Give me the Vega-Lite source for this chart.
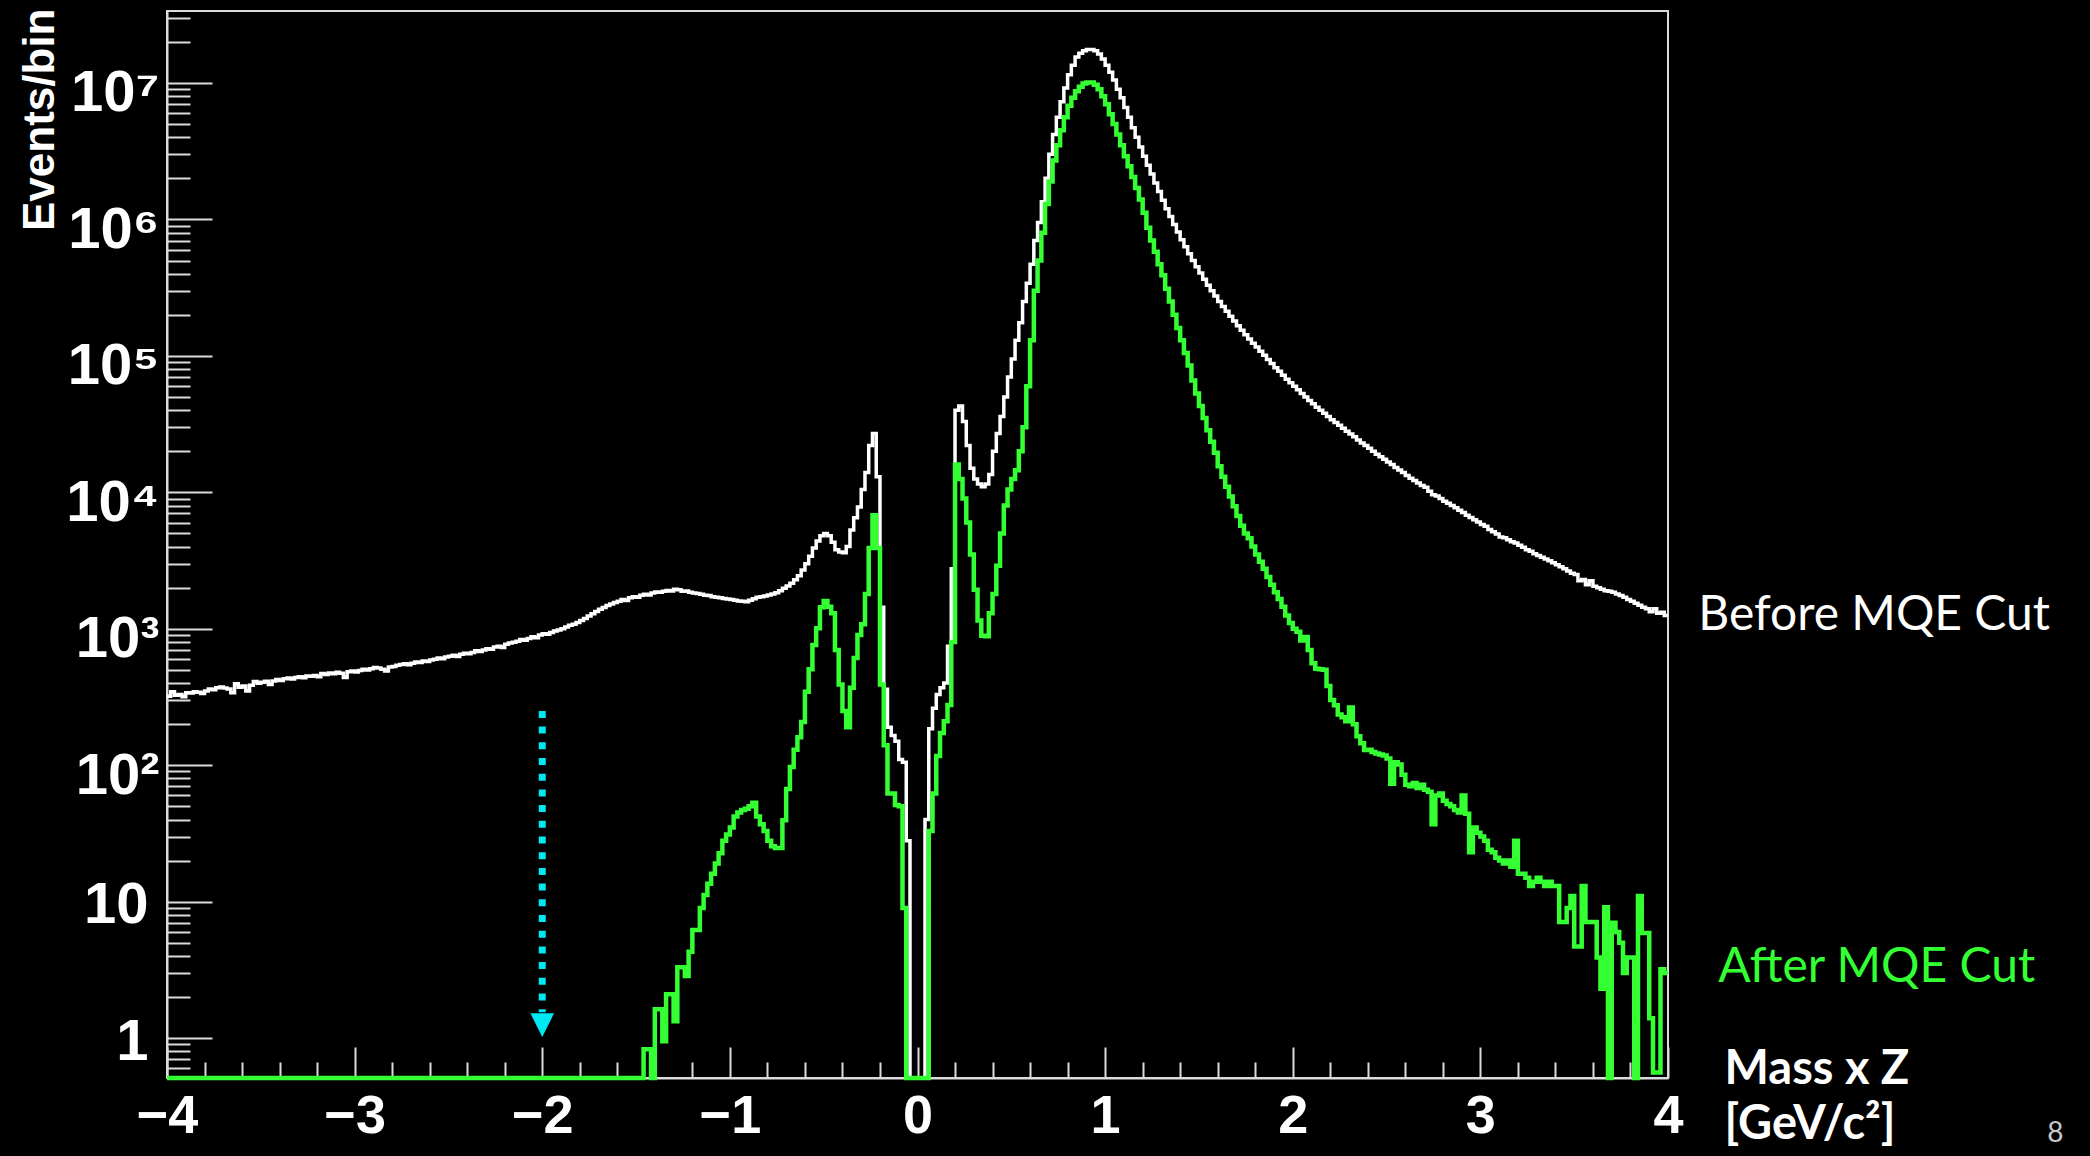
{
"$schema": "https://vega.github.io/schema/vega-lite/v6.json",
"width": 1501, "height": 1067,
"autosize": {"type": "none"},
"padding": {"left": 167, "top": 11, "right": 422, "bottom": 78},
"background": "#000000",
"config": {"view": {"stroke": "#dcdcdc", "strokeWidth": 2}, "axis": {"grid": false}},
"data": {"values": [
{"x":-4.00,"w":320,"g":0.51},{"x":-3.98,"w":345,"g":0.51},{"x":-3.96,"w":325,"g":0.51},{"x":-3.94,"w":330,"g":0.51},{"x":-3.92,"w":318,"g":0.51},{"x":-3.90,"w":340,"g":0.51},{"x":-3.88,"w":338,"g":0.51},{"x":-3.86,"w":345,"g":0.51},{"x":-3.84,"w":342,"g":0.51},{"x":-3.82,"w":335,"g":0.51},
{"x":-3.80,"w":350,"g":0.51},{"x":-3.78,"w":362,"g":0.51},{"x":-3.76,"w":358,"g":0.51},{"x":-3.74,"w":370,"g":0.51},{"x":-3.72,"w":375,"g":0.51},{"x":-3.70,"w":368,"g":0.51},{"x":-3.68,"w":362,"g":0.51},{"x":-3.66,"w":340,"g":0.51},{"x":-3.64,"w":395,"g":0.51},{"x":-3.62,"w":372,"g":0.51},
{"x":-3.60,"w":380,"g":0.51},{"x":-3.58,"w":350,"g":0.51},{"x":-3.56,"w":385,"g":0.51},{"x":-3.54,"w":410,"g":0.51},{"x":-3.52,"w":398,"g":0.51},{"x":-3.50,"w":405,"g":0.51},{"x":-3.48,"w":412,"g":0.51},{"x":-3.46,"w":390,"g":0.51},{"x":-3.44,"w":415,"g":0.51},{"x":-3.42,"w":425,"g":0.51},
{"x":-3.40,"w":418,"g":0.51},{"x":-3.38,"w":430,"g":0.51},{"x":-3.36,"w":435,"g":0.51},{"x":-3.34,"w":428,"g":0.51},{"x":-3.32,"w":440,"g":0.51},{"x":-3.30,"w":445,"g":0.51},{"x":-3.28,"w":437,"g":0.51},{"x":-3.26,"w":450,"g":0.51},{"x":-3.24,"w":448,"g":0.51},{"x":-3.22,"w":455,"g":0.51},
{"x":-3.20,"w":445,"g":0.51},{"x":-3.18,"w":470,"g":0.51},{"x":-3.16,"w":462,"g":0.51},{"x":-3.14,"w":475,"g":0.51},{"x":-3.12,"w":468,"g":0.51},{"x":-3.10,"w":480,"g":0.51},{"x":-3.08,"w":472,"g":0.51},{"x":-3.06,"w":440,"g":0.51},{"x":-3.04,"w":485,"g":0.51},{"x":-3.02,"w":490,"g":0.51},
{"x":-3.00,"w":482,"g":0.51},{"x":-2.98,"w":495,"g":0.51},{"x":-2.96,"w":505,"g":0.51},{"x":-2.94,"w":498,"g":0.51},{"x":-2.92,"w":510,"g":0.51},{"x":-2.90,"w":520,"g":0.51},{"x":-2.88,"w":515,"g":0.51},{"x":-2.86,"w":505,"g":0.51},{"x":-2.84,"w":490,"g":0.51},{"x":-2.82,"w":525,"g":0.51},
{"x":-2.80,"w":530,"g":0.51},{"x":-2.78,"w":540,"g":0.51},{"x":-2.76,"w":548,"g":0.51},{"x":-2.74,"w":555,"g":0.51},{"x":-2.72,"w":545,"g":0.51},{"x":-2.70,"w":560,"g":0.51},{"x":-2.68,"w":570,"g":0.51},{"x":-2.66,"w":565,"g":0.51},{"x":-2.64,"w":580,"g":0.51},{"x":-2.62,"w":575,"g":0.51},
{"x":-2.60,"w":590,"g":0.51},{"x":-2.58,"w":598,"g":0.51},{"x":-2.56,"w":610,"g":0.51},{"x":-2.54,"w":602,"g":0.51},{"x":-2.52,"w":620,"g":0.51},{"x":-2.50,"w":628,"g":0.51},{"x":-2.48,"w":640,"g":0.51},{"x":-2.46,"w":625,"g":0.51},{"x":-2.44,"w":650,"g":0.51},{"x":-2.42,"w":662,"g":0.51},
{"x":-2.40,"w":655,"g":0.51},{"x":-2.38,"w":670,"g":0.51},{"x":-2.36,"w":690,"g":0.51},{"x":-2.34,"w":680,"g":0.51},{"x":-2.32,"w":700,"g":0.51},{"x":-2.30,"w":715,"g":0.51},{"x":-2.28,"w":708,"g":0.51},{"x":-2.26,"w":735,"g":0.51},{"x":-2.24,"w":745,"g":0.51},{"x":-2.22,"w":730,"g":0.51},
{"x":-2.20,"w":770,"g":0.51},{"x":-2.18,"w":785,"g":0.51},{"x":-2.16,"w":795,"g":0.51},{"x":-2.14,"w":810,"g":0.51},{"x":-2.12,"w":835,"g":0.51},{"x":-2.10,"w":825,"g":0.51},{"x":-2.08,"w":850,"g":0.51},{"x":-2.06,"w":875,"g":0.51},{"x":-2.04,"w":860,"g":0.51},{"x":-2.02,"w":900,"g":0.51},
{"x":-2.00,"w":920,"g":0.51},{"x":-1.98,"w":910,"g":0.51},{"x":-1.96,"w":940,"g":0.51},{"x":-1.94,"w":965,"g":0.51},{"x":-1.92,"w":980,"g":0.51},{"x":-1.90,"w":1000,"g":0.51},{"x":-1.88,"w":1030,"g":0.51},{"x":-1.86,"w":1060,"g":0.51},{"x":-1.84,"w":1080,"g":0.51},{"x":-1.82,"w":1110,"g":0.51},
{"x":-1.80,"w":1150,"g":0.51},{"x":-1.78,"w":1190,"g":0.51},{"x":-1.76,"w":1240,"g":0.51},{"x":-1.74,"w":1290,"g":0.51},{"x":-1.72,"w":1340,"g":0.51},{"x":-1.70,"w":1390,"g":0.51},{"x":-1.68,"w":1430,"g":0.51},{"x":-1.66,"w":1480,"g":0.51},{"x":-1.64,"w":1520,"g":0.51},{"x":-1.62,"w":1560,"g":0.51},
{"x":-1.60,"w":1590,"g":0.51},{"x":-1.58,"w":1640,"g":0.51},{"x":-1.56,"w":1610,"g":0.51},{"x":-1.54,"w":1690,"g":0.51},{"x":-1.52,"w":1720,"g":0.51},{"x":-1.50,"w":1700,"g":0.51},{"x":-1.48,"w":1760,"g":0.51},{"x":-1.46,"w":1790,"g":0.83},{"x":-1.44,"w":1770,"g":0.83},{"x":-1.42,"w":1830,"g":0.51},
{"x":-1.40,"w":1860,"g":1.63},{"x":-1.38,"w":1850,"g":1.63},{"x":-1.36,"w":1880,"g":0.95},{"x":-1.34,"w":1910,"g":2.1},{"x":-1.32,"w":1890,"g":2.1},{"x":-1.30,"w":1950,"g":1.33},{"x":-1.28,"w":1930,"g":3.3},{"x":-1.26,"w":1880,"g":3.3},{"x":-1.24,"w":1890,"g":2.85},{"x":-1.22,"w":1850,"g":4.3},
{"x":-1.20,"w":1830,"g":6.2},{"x":-1.18,"w":1810,"g":6.2},{"x":-1.16,"w":1790,"g":9},{"x":-1.14,"w":1760,"g":11.2},{"x":-1.12,"w":1750,"g":13.5},{"x":-1.10,"w":1720,"g":16},{"x":-1.08,"w":1700,"g":19},{"x":-1.06,"w":1690,"g":22.6},{"x":-1.04,"w":1670,"g":28},{"x":-1.02,"w":1650,"g":31},
{"x":-1.00,"w":1640,"g":35},{"x":-0.98,"w":1620,"g":42},{"x":-0.96,"w":1600,"g":45},{"x":-0.94,"w":1590,"g":47},{"x":-0.92,"w":1580,"g":48},{"x":-0.90,"w":1620,"g":50},{"x":-0.88,"w":1660,"g":53},{"x":-0.86,"w":1700,"g":42},{"x":-0.84,"w":1720,"g":37},{"x":-0.82,"w":1740,"g":33},
{"x":-0.80,"w":1770,"g":28},{"x":-0.78,"w":1800,"g":25.5},{"x":-0.76,"w":1840,"g":24.7},{"x":-0.74,"w":1900,"g":24.7},{"x":-0.72,"w":1980,"g":39.5},{"x":-0.70,"w":2060,"g":67},{"x":-0.68,"w":2160,"g":97},{"x":-0.66,"w":2290,"g":130},{"x":-0.64,"w":2450,"g":160},{"x":-0.62,"w":2700,"g":207},
{"x":-0.60,"w":3000,"g":345},{"x":-0.58,"w":3400,"g":505},{"x":-0.56,"w":3900,"g":760},{"x":-0.54,"w":4400,"g":1010},{"x":-0.52,"w":4800,"g":1440},{"x":-0.50,"w":5000,"g":1600},{"x":-0.48,"w":4800,"g":1450},{"x":-0.46,"w":4300,"g":1300},{"x":-0.44,"w":3800,"g":700},{"x":-0.42,"w":3650,"g":390},
{"x":-0.40,"w":3600,"g":250},{"x":-0.38,"w":4000,"g":190},{"x":-0.36,"w":5300,"g":370},{"x":-0.34,"w":6500,"g":610},{"x":-0.32,"w":7800,"g":900},{"x":-0.30,"w":10500,"g":1080},{"x":-0.28,"w":14000,"g":1800},{"x":-0.26,"w":22000,"g":3900},{"x":-0.24,"w":27000,"g":6800},{"x":-0.22,"w":13000,"g":3900},
{"x":-0.20,"w":1440,"g":390},{"x":-0.18,"w":360,"g":140},{"x":-0.16,"w":190,"g":62},{"x":-0.14,"w":165,"g":62},{"x":-0.12,"w":150,"g":51},{"x":-0.10,"w":110,"g":50},{"x":-0.08,"w":105,"g":9},{"x":-0.06,"w":28,"g":0.51},{"x":-0.04,"w":0.51,"g":0.51},{"x":-0.02,"w":0.51,"g":0.51},
{"x":0.00,"w":0.51,"g":0.51},{"x":0.02,"w":0.51,"g":0.51},{"x":0.04,"w":40,"g":0.51},{"x":0.06,"w":185,"g":33},{"x":0.08,"w":262,"g":62},{"x":0.10,"w":330,"g":117},{"x":0.12,"w":370,"g":172},{"x":0.14,"w":400,"g":210},{"x":0.16,"w":745,"g":276},{"x":0.18,"w":2750,"g":800},
{"x":0.20,"w":40000,"g":16000},{"x":0.22,"w":43000,"g":12500},{"x":0.24,"w":33000,"g":9000},{"x":0.26,"w":22000,"g":6000},{"x":0.28,"w":15000,"g":3500},{"x":0.30,"w":12500,"g":1930},{"x":0.32,"w":11500,"g":1150},{"x":0.34,"w":11000,"g":890},{"x":0.36,"w":11500,"g":880},{"x":0.38,"w":13500,"g":1300},
{"x":0.40,"w":20000,"g":1800},{"x":0.42,"w":27000,"g":2900},{"x":0.44,"w":36000,"g":5000},{"x":0.46,"w":50000,"g":8000},{"x":0.48,"w":70000,"g":10500},{"x":0.50,"w":95000,"g":12500},{"x":0.52,"w":130000,"g":14500},{"x":0.54,"w":175000,"g":20000},{"x":0.56,"w":250000,"g":30000},{"x":0.58,"w":340000,"g":60000},
{"x":0.60,"w":470000,"g":130000},{"x":0.62,"w":700000,"g":300000},{"x":0.64,"w":950000,"g":500000},{"x":0.66,"w":1350000,"g":800000},{"x":0.68,"w":2000000,"g":1300000},{"x":0.70,"w":3000000,"g":1900000},{"x":0.72,"w":4200000,"g":2700000},{"x":0.74,"w":5600000,"g":3500000},{"x":0.76,"w":7300000,"g":4500000},{"x":0.78,"w":9200000,"g":5600000},
{"x":0.80,"w":11500000,"g":6800000},{"x":0.82,"w":13500000,"g":7800000},{"x":0.84,"w":15500000,"g":8700000},{"x":0.86,"w":16500000,"g":9400000},{"x":0.88,"w":17200000,"g":9900000},{"x":0.90,"w":17600000,"g":10100000},{"x":0.92,"w":17600000,"g":10100000},{"x":0.94,"w":17200000,"g":9700000},{"x":0.96,"w":16300000,"g":9000000},{"x":0.98,"w":15000000,"g":8000000},
{"x":1.00,"w":13500000,"g":7000000},{"x":1.02,"w":12000000,"g":5900000},{"x":1.04,"w":10500000,"g":5000000},{"x":1.06,"w":9000000,"g":4200000},{"x":1.08,"w":7800000,"g":3500000},{"x":1.10,"w":6600000,"g":2900000},{"x":1.12,"w":5600000,"g":2450000},{"x":1.14,"w":4700000,"g":2050000},{"x":1.16,"w":4000000,"g":1700000},{"x":1.18,"w":3400000,"g":1400000},
{"x":1.20,"w":2900000,"g":1120000},{"x":1.22,"w":2500000,"g":870000},{"x":1.24,"w":2150000,"g":700000},{"x":1.26,"w":1850000,"g":580000},{"x":1.28,"w":1600000,"g":470000},{"x":1.30,"w":1380000,"g":390000},{"x":1.32,"w":1200000,"g":310000},{"x":1.34,"w":1050000,"g":250000},{"x":1.36,"w":920000,"g":200000},{"x":1.38,"w":810000,"g":160000},
{"x":1.40,"w":710000,"g":130000},{"x":1.42,"w":630000,"g":105000},{"x":1.44,"w":560000,"g":85000},{"x":1.46,"w":500000,"g":66000},{"x":1.48,"w":450000,"g":53000},{"x":1.50,"w":405000,"g":43000},{"x":1.52,"w":365000,"g":35000},{"x":1.54,"w":330000,"g":28500},{"x":1.56,"w":300000,"g":23500},{"x":1.58,"w":275000,"g":19500},
{"x":1.60,"w":250000,"g":15500},{"x":1.62,"w":230000,"g":13000},{"x":1.64,"w":212000,"g":11000},{"x":1.66,"w":195000,"g":9300},{"x":1.68,"w":180000,"g":7900},{"x":1.70,"w":166000,"g":6700},{"x":1.72,"w":154000,"g":5700},{"x":1.74,"w":143000,"g":5000},{"x":1.76,"w":133000,"g":4600},{"x":1.78,"w":124000,"g":4000},
{"x":1.80,"w":116000,"g":3500},{"x":1.82,"w":108000,"g":3100},{"x":1.84,"w":101000,"g":2750},{"x":1.86,"w":94000,"g":2400},{"x":1.88,"w":88000,"g":2100},{"x":1.90,"w":82000,"g":1850},{"x":1.92,"w":77000,"g":1650},{"x":1.94,"w":72000,"g":1450},{"x":1.96,"w":67500,"g":1250},{"x":1.98,"w":63500,"g":1100},
{"x":2.00,"w":60000,"g":1000},{"x":2.02,"w":56500,"g":950},{"x":2.04,"w":53000,"g":820},{"x":2.06,"w":50000,"g":870},{"x":2.08,"w":47000,"g":700},{"x":2.10,"w":44500,"g":560},{"x":2.12,"w":42000,"g":510},{"x":2.14,"w":40000,"g":505},{"x":2.16,"w":38000,"g":500},{"x":2.18,"w":36000,"g":380},
{"x":2.20,"w":34000,"g":300},{"x":2.22,"w":32500,"g":275},{"x":2.24,"w":31000,"g":235},{"x":2.26,"w":29500,"g":225},{"x":2.28,"w":28000,"g":210},{"x":2.30,"w":26800,"g":265},{"x":2.32,"w":25500,"g":200},{"x":2.34,"w":24200,"g":163},{"x":2.36,"w":23000,"g":145},{"x":2.38,"w":22000,"g":129},
{"x":2.40,"w":21000,"g":130},{"x":2.42,"w":20000,"g":125},{"x":2.44,"w":19000,"g":122},{"x":2.46,"w":18200,"g":120},{"x":2.48,"w":17500,"g":118},{"x":2.50,"w":16700,"g":112},{"x":2.52,"w":16000,"g":73},{"x":2.54,"w":15200,"g":105},{"x":2.56,"w":14600,"g":101},{"x":2.58,"w":14000,"g":85},
{"x":2.60,"w":13300,"g":72},{"x":2.62,"w":12700,"g":70},{"x":2.64,"w":12200,"g":74},{"x":2.66,"w":11700,"g":68},{"x":2.68,"w":11200,"g":72},{"x":2.70,"w":10900,"g":66},{"x":2.72,"w":10200,"g":64},{"x":2.74,"w":9600,"g":37},{"x":2.76,"w":9400,"g":60},{"x":2.78,"w":9000,"g":62},
{"x":2.80,"w":8600,"g":55},{"x":2.82,"w":8300,"g":52},{"x":2.84,"w":8000,"g":50},{"x":2.86,"w":7700,"g":47},{"x":2.88,"w":7400,"g":45},{"x":2.90,"w":7100,"g":60},{"x":2.92,"w":6800,"g":44},{"x":2.94,"w":6550,"g":23},{"x":2.96,"w":6300,"g":35},{"x":2.98,"w":6050,"g":32},
{"x":3.00,"w":5800,"g":30},{"x":3.02,"w":5650,"g":28},{"x":3.04,"w":5350,"g":24},{"x":3.06,"w":5150,"g":23},{"x":3.08,"w":4950,"g":21},{"x":3.10,"w":4700,"g":20},{"x":3.12,"w":4650,"g":19},{"x":3.14,"w":4500,"g":20},{"x":3.16,"w":4350,"g":18},{"x":3.18,"w":4250,"g":28},
{"x":3.20,"w":4100,"g":16},{"x":3.22,"w":3950,"g":16},{"x":3.24,"w":3800,"g":15},{"x":3.26,"w":3700,"g":13},{"x":3.28,"w":3550,"g":14},{"x":3.30,"w":3450,"g":15},{"x":3.32,"w":3350,"g":14},{"x":3.34,"w":3250,"g":13},{"x":3.36,"w":3150,"g":14},{"x":3.38,"w":3050,"g":13},
{"x":3.40,"w":2950,"g":13},{"x":3.42,"w":2850,"g":7.1},{"x":3.44,"w":2750,"g":7.1},{"x":3.46,"w":2650,"g":9},{"x":3.48,"w":2550,"g":11},{"x":3.50,"w":2500,"g":4.7},{"x":3.52,"w":2250,"g":4.7},{"x":3.54,"w":2300,"g":13},{"x":3.56,"w":2100,"g":7.1},{"x":3.58,"w":2250,"g":7.1},
{"x":3.60,"w":2050,"g":7.1},{"x":3.62,"w":2000,"g":3.9},{"x":3.64,"w":1950,"g":2.3},{"x":3.66,"w":1900,"g":9.1},{"x":3.68,"w":1880,"g":0.51},{"x":3.70,"w":1850,"g":7},{"x":3.72,"w":1800,"g":6},{"x":3.74,"w":1750,"g":5},{"x":3.76,"w":1700,"g":3},{"x":3.78,"w":1640,"g":3.9},
{"x":3.80,"w":1590,"g":3.9},{"x":3.82,"w":1540,"g":0.51},{"x":3.84,"w":1490,"g":11},{"x":3.86,"w":1440,"g":5.9},{"x":3.88,"w":1400,"g":5.9},{"x":3.90,"w":1330,"g":1.4},{"x":3.92,"w":1400,"g":0.56},{"x":3.94,"w":1300,"g":0.56},{"x":3.96,"w":1320,"g":3.2},{"x":3.98,"w":1250,"g":3.0},
{"x":4.00,"w":1250,"g":3.0}
]},
"layer": [
{
 "mark": {"type": "line", "interpolate": "step-after", "color": "#ffffff", "strokeWidth": 3.5},
 "encoding": {
  "x": {"field": "x", "type": "quantitative",
        "scale": {"domain": [-4, 4], "nice": false, "zero": false},
        "axis": {"orient": "bottom", "tickCount": 200,
                 "values": [-4,-3.8,-3.6,-3.4,-3.2,-3,-2.8,-2.6,-2.4,-2.2,-2,-1.8,-1.6,-1.4,-1.2,-1,-0.8,-0.6,-0.4,-0.2,0,0.2,0.4,0.6,0.8,1,1.2,1.4,1.6,1.8,2,2.2,2.4,2.6,2.8,3,3.2,3.4,3.6,3.8,4],
                 "labelExpr": "abs(datum.value - round(datum.value)) < 0.001 ? format(round(datum.value), 'd') : ''",
                 "tickSize": {"condition": {"test": "abs(datum.value - round(datum.value)) < 0.001", "value": -31}, "value": -16},
                 "tickColor": "#dcdcdc", "tickWidth": 2,
                 "domainColor": "#dcdcdc", "domainWidth": 2,
                 "labelColor": "#ffffff", "labelFont": "Liberation Sans", "labelFontWeight": "bold", "labelFontSize": 54,
                 "labelPadding": 42, "labelFlush": false, "labelOverlap": false, "labelBound": false,
                 "title": ["Mass x Z", "[GeV/c²]"],
                 "titleFont": "Lato", "titleFontWeight": "bold", "titleFontSize": 47, "titleColor": "#ffffff",
                 "titleAlign": "left", "titleBaseline": "top", "titleAngle": 0, "titleLineHeight": 55,
                 "titleX": 1557, "titleY": -32}},
  "y": {"field": "w", "type": "quantitative",
        "scale": {"type": "log", "domain": [0.51, 33700000], "nice": false},
        "axis": {"orient": "left", "tickCount": 200,
                 "values": [0.6,0.7,0.8,0.9,1,2,3,4,5,6,7,8,9,10,20,30,40,50,60,70,80,90,100,200,300,400,500,600,700,800,900,1000,2000,3000,4000,5000,6000,7000,8000,9000,10000,20000,30000,40000,50000,60000,70000,80000,90000,100000,200000,300000,400000,500000,600000,700000,800000,900000,1000000,2000000,3000000,4000000,5000000,6000000,7000000,8000000,9000000,10000000,20000000,30000000],
                 "labelExpr": "abs(log(datum.value)/LN10 - round(log(datum.value)/LN10)) < 0.001 ? (datum.value < 5 ? '1' : (datum.value < 50 ? '10' : '10' + ['','','²','³','⁴','⁵','⁶','⁷'][round(log(datum.value)/LN10)])) : ''",
                 "tickSize": {"condition": {"test": "abs(log(datum.value)/LN10 - round(log(datum.value)/LN10)) < 0.001", "value": -45}, "value": -23},
                 "labelOffset": {"condition": {"test": "datum.value >= 50", "value": 11}, "value": 4},
                 "labelPadding": {"condition": {"test": "datum.value >= 50", "value": 53}, "value": 64},
                 "tickColor": "#dcdcdc", "tickWidth": 2,
                 "domainColor": "#dcdcdc", "domainWidth": 2,
                 "labelColor": "#ffffff", "labelFont": "Liberation Sans", "labelFontWeight": "bold", "labelFontSize": 58,
                 "labelFlush": false, "labelOverlap": false, "labelBound": false,
                 "title": "Events/bin",
                 "titleFont": "Liberation Sans", "titleFontWeight": "bold", "titleFontSize": 44, "titleColor": "#ffffff",
                 "titleAngle": -90, "titleAlign": "right", "titleBaseline": "alphabetic",
                 "titleX": -114, "titleY": -3}}
 }
},
{
 "mark": {"type": "line", "interpolate": "step-after", "color": "#33ff33", "strokeWidth": 4.5},
 "encoding": {
  "x": {"field": "x", "type": "quantitative"},
  "y": {"field": "g", "type": "quantitative"}
 }
},
{
 "data": {"values": [{"x": -2, "top": 250, "bottom": 1.55}]},
 "mark": {"type": "rule", "color": "#00e8f4", "strokeWidth": 7, "strokeDash": [7, 8.7], "strokeCap": "butt"},
 "encoding": {
  "x": {"field": "x", "type": "quantitative"},
  "y": {"field": "top", "type": "quantitative"},
  "y2": {"field": "bottom"}
 }
},
{
 "data": {"values": [{"x": -2, "y": 1.245}]},
 "mark": {"type": "point", "shape": "M-1,-1L1,-1L0,1Z", "filled": true, "color": "#00e8f4", "size": 560, "opacity": 1, "strokeWidth": 0},
 "encoding": {
  "x": {"field": "x", "type": "quantitative"},
  "y": {"field": "y", "type": "quantitative"}
 }
},
{
 "data": {"values": [{"x": 4.161, "y": 980, "t": "Before MQE Cut"}, {"x": 4.268, "y": 2.57, "t": "After MQE Cut"}]},
 "mark": {"type": "text", "align": "left", "baseline": "alphabetic", "font": "Lato", "fontSize": 48},
 "encoding": {
  "x": {"field": "x", "type": "quantitative"},
  "y": {"field": "y", "type": "quantitative"},
  "text": {"field": "t"},
  "color": {"field": "t", "type": "nominal", "scale": {"domain": ["Before MQE Cut", "After MQE Cut"], "range": ["#ffffff", "#33ff33"]}, "legend": null}
 }
},
{
 "data": {"values": [{"x": 6.064, "y": 0.173, "t": "8"}]},
 "mark": {"type": "text", "align": "center", "baseline": "alphabetic", "font": "Lato", "fontSize": 28, "color": "#c8c8c8"},
 "encoding": {
  "x": {"field": "x", "type": "quantitative"},
  "y": {"field": "y", "type": "quantitative"},
  "text": {"field": "t"}
 }
}
]
}
